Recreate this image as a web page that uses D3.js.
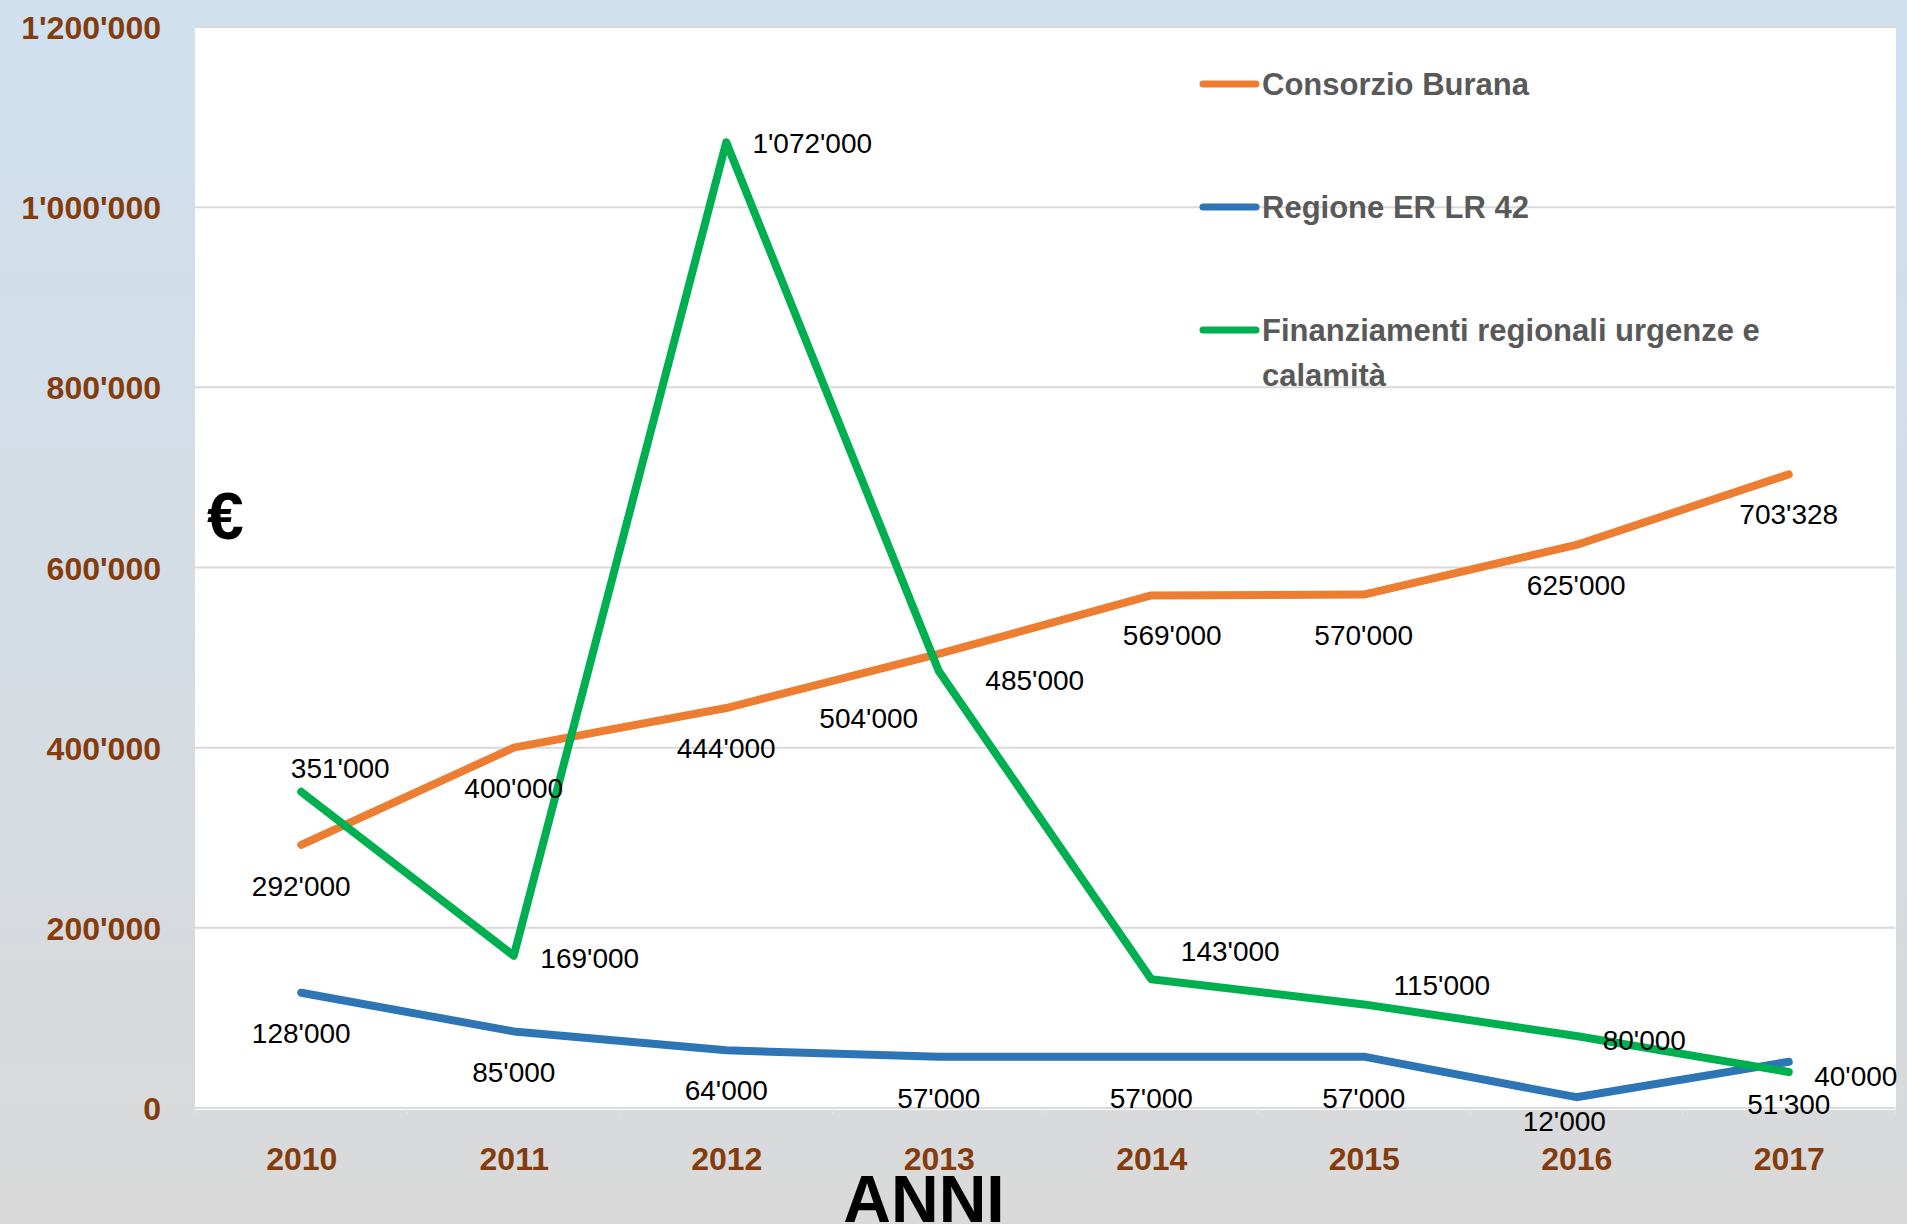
<!DOCTYPE html>
<html>
<head>
<meta charset="utf-8">
<script src="https://cdn.jsdelivr.net/npm/d3@7"></script>
<style>
  html, body { margin: 0; padding: 0; overflow: hidden; }
  svg { display: block; font-family: "Liberation Sans", Arial, sans-serif; }
</style>
</head>
<body>
<div id="chart"></div>
<script>
/* Data. */
const years = ["2010", "2011", "2012", "2013", "2014", "2015", "2016", "2017"]
const burana = [292000, 400000, 444000, 504000, 569000, 570000, 625000, 703328]
const regione = [128000, 85000, 64000, 57000, 57000, 57000, 12000, 51300]
const finanziamenti = [351000, 169000, 1072000, 485000, 143000, 115000, 80000, 40000]
const seriesNames = ["Consorzio Burana", "Regione ER LR 42", "Finanziamenti regionali urgenze e calamità"]
const yTicks = [0, 200000, 400000, 600000, 800000, 1000000, 1200000]

/* Label nudges (pixels, label centre relative to its point). */
const buranaNudge = [[0, 41], [0, 40], [0, 40], [-70, 64], [21, 40], [0, 40], [0, 40], [0, 40]]
const regioneNudge = [[0, 40], [0, 41], [0, 40], [0, 41], [0, 41], [0, 41], [-12, 24], [0, 42]]
const finanzNudge = [[39, -24], [76, 2], [86, 1], [96, 9], [79, -28], [78, -19], [68, 4], [67, 4]]

/* Define svg-size. */
const width = 1907
const height = 1224

const plot = { left: 195, right: 1895, top: 27, bottom: 1108 }

const svg = d3.select("#chart")
  .append("svg")
  .attr("width", width)
  .attr("height", height)

/* Background gradient. */
const grad = svg.append("defs").append("linearGradient")
  .attr("id", "bg")
  .attr("x1", 0).attr("y1", 0).attr("x2", 0).attr("y2", 1)
grad.append("stop").attr("offset", "0%").attr("stop-color", "#cfe0ef")
grad.append("stop").attr("offset", "100%").attr("stop-color", "#d9d9d9")

svg.append("rect")
  .attr("width", width)
  .attr("height", height)
  .attr("fill", "url(#bg)")

/* White plot area. */
svg.append("rect")
  .attr("x", plot.left)
  .attr("y", plot.top + 1)
  .attr("width", plot.right - plot.left + 1)
  .attr("height", plot.bottom - plot.top + 1)
  .attr("fill", "#ffffff")

/* Scales. */
const x = d3.scalePoint()
  .domain(years)
  .range([plot.left, plot.right])
  .padding(0.5)

const y = d3.scaleLinear()
  .domain([0, 1200000])
  .range([plot.bottom, plot.top])

const fmt = (v) => d3.format(",")(v).replace(/,/g, "'")

/* Gridlines. */
svg.append("g")
  .selectAll("line")
  .data(yTicks.slice(1))
  .join("line")
  .attr("x1", plot.left)
  .attr("x2", plot.right)
  .attr("y1", d => y(d))
  .attr("y2", d => y(d))
  .attr("stroke", "#d9d9d9")
  .attr("stroke-width", 2)

/* Y axis. */
const yAxis = svg.append("g")
  .attr("transform", `translate(${plot.left - 34},0)`)
  .call(d3.axisLeft(y).tickValues(yTicks).tickFormat(fmt).tickSize(0).tickPadding(0))
yAxis.select(".domain").remove()
yAxis.selectAll("text")
  .attr("font-family", "Liberation Sans, Arial, sans-serif")
  .attr("font-size", 32)
  .attr("font-weight", "bold")
  .attr("fill", "#843c0c")
  .attr("dy", "0.36em")

/* X axis. */
const step = x.step()
const xAxis = svg.append("g")
  .attr("transform", `translate(0,${plot.bottom})`)
  .call(d3.axisBottom(x).tickSize(0).tickPadding(0))
xAxis.select(".domain")
  .attr("stroke", "#d9d9d9")
  .attr("stroke-width", 2)
  .attr("d", `M${plot.left},0H${plot.right}`)
xAxis.selectAll("text")
  .attr("font-family", "Liberation Sans, Arial, sans-serif")
  .attr("font-size", 32)
  .attr("font-weight", "bold")
  .attr("fill", "#843c0c")
  .attr("y", 62)
  .attr("dy", 0)
xAxis.append("g")
  .selectAll("line")
  .data(d3.range(years.length + 1))
  .join("line")
  .attr("x1", i => plot.left + i * step)
  .attr("x2", i => plot.left + i * step)
  .attr("y1", 0)
  .attr("y2", 6)
  .attr("stroke", "#e4e4e4")
  .attr("stroke-width", 1)

/* Axis titles. */
svg.append("text")
  .attr("x", 924)
  .attr("y", 1222)
  .attr("text-anchor", "middle")
  .attr("font-size", 66)
  .attr("font-weight", "bold")
  .attr("fill", "#000")
  .text("ANNI")

svg.append("text")
  .attr("x", 207)
  .attr("y", 539)
  .attr("font-size", 66)
  .attr("font-weight", "bold")
  .attr("fill", "#000")
  .text("€")

/* Series. */
const series = [
  { name: seriesNames[0], values: burana, color: "#ed7d31", nudge: buranaNudge },
  { name: seriesNames[1], values: regione, color: "#2e75b6", nudge: regioneNudge },
  { name: seriesNames[2], values: finanziamenti, color: "#00b050", nudge: finanzNudge }
]

const line = d3.line()
  .x((d, i) => x(years[i]))
  .y(d => y(d))

svg.append("g")
  .selectAll("path")
  .data(series)
  .join("path")
  .attr("d", d => line(d.values))
  .attr("fill", "none")
  .attr("stroke", d => d.color)
  .attr("stroke-width", 8)
  .attr("stroke-linejoin", "round")
  .attr("stroke-linecap", "round")

/* Data labels. */
series.forEach(s => {
  svg.append("g")
    .selectAll("text")
    .data(s.values)
    .join("text")
    .attr("x", (d, i) => x(years[i]) + s.nudge[i][0])
    .attr("y", (d, i) => y(d) + s.nudge[i][1] + 10)
    .attr("text-anchor", "middle")
    .attr("font-size", 28)
    .attr("fill", "#000")
    .text(d => fmt(d))
})

/* Legend. */
const legendRows = [
  { lines: [seriesNames[0]], color: series[0].color, y: 84 },
  { lines: [seriesNames[1]], color: series[1].color, y: 207 },
  { lines: ["Finanziamenti regionali urgenze e", "calamità"], color: series[2].color, y: 330 }
]

const legend = svg.append("g")
legendRows.forEach(r => {
  legend.append("line")
    .attr("x1", 1203)
    .attr("x2", 1256)
    .attr("y1", r.y)
    .attr("y2", r.y)
    .attr("stroke", r.color)
    .attr("stroke-width", 7)
    .attr("stroke-linecap", "round")
  r.lines.forEach((t, k) => {
    legend.append("text")
      .attr("x", 1262)
      .attr("y", r.y + 11 + k * 45)
      .attr("font-size", 31)
      .attr("font-weight", "bold")
      .attr("fill", "#595959")
      .text(t)
  })
})
</script>
</body>
</html>
